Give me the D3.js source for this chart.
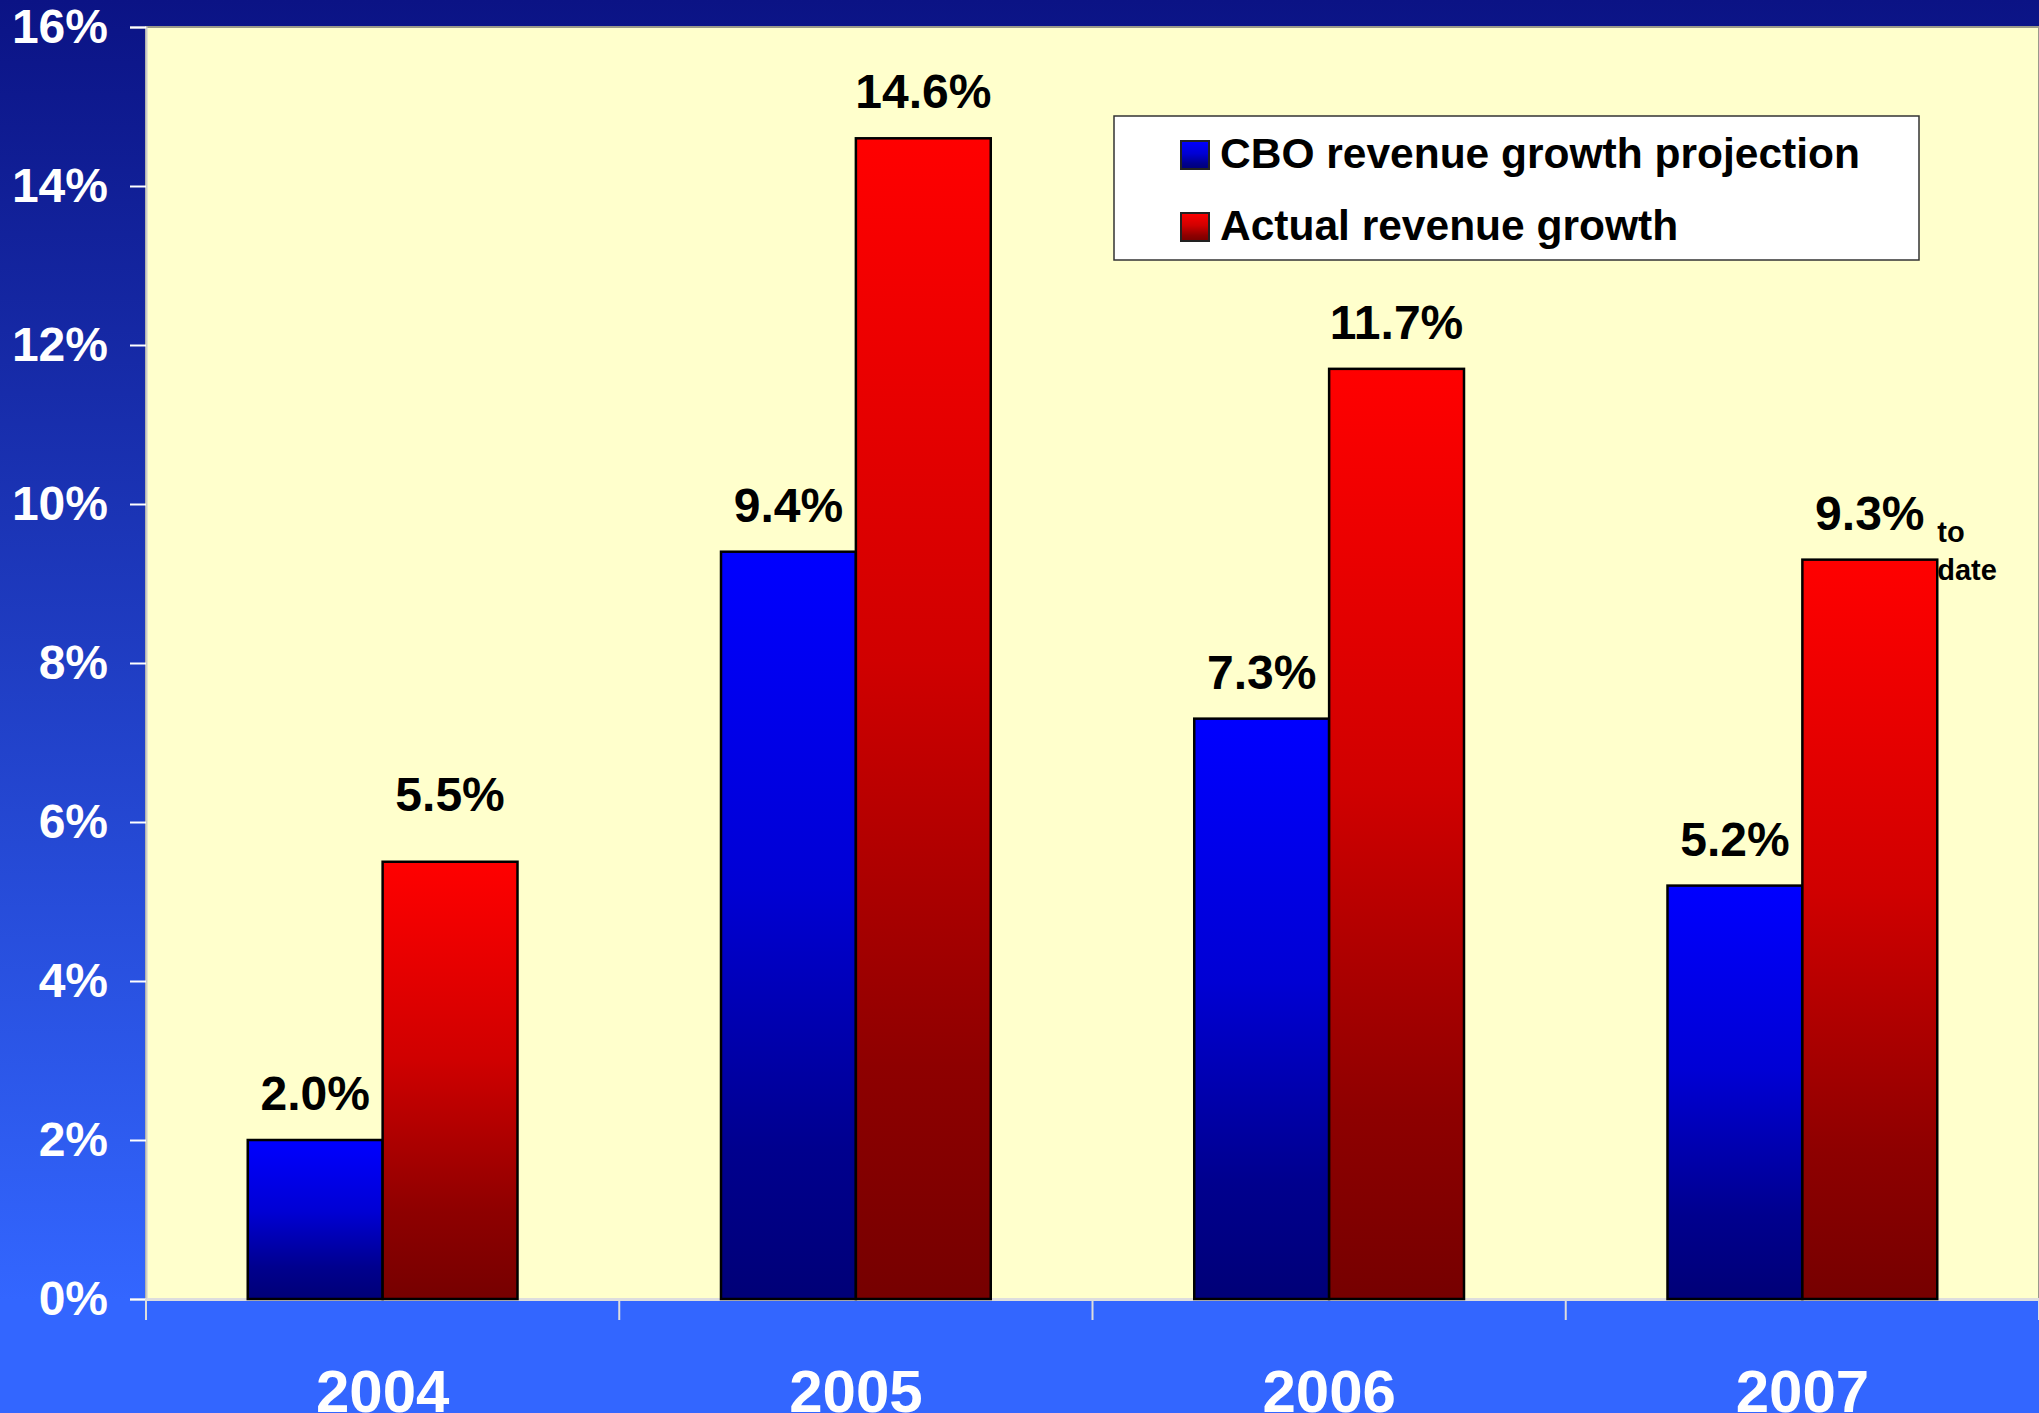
<!DOCTYPE html>
<html><head><meta charset="utf-8">
<script src="https://cdn.jsdelivr.net/npm/d3@7"></script>
<style>html,body{margin:0;padding:0;background:#3366FF;}svg{display:block;font-family:"Liberation Sans",Arial,sans-serif;}</style>
</head><body>
<script>
const years = ["2004","2005","2006","2007"];
const seriesNames = ["CBO revenue growth projection","Actual revenue growth"];
const cboValues = [2.0, 9.4, 7.3, 5.2];
const actualValues = [5.5, 14.6, 11.7, 9.3];
const yTickValues = [0,2,4,6,8,10,12,14,16];
const noteLines = ["to","date"];

const W = 2039, H = 1413;
const L = 146, T = 27, R = 2039, B = 1299;
// extra vertical lift of specific value labels (year index, series index)
const labelLift = {"0-1": 21};

const svg = d3.select("body").append("svg").attr("width", W).attr("height", H);
const defs = svg.append("defs");

const bg = defs.append("linearGradient").attr("id","bg").attr("gradientUnits","userSpaceOnUse")
  .attr("x1",0).attr("y1",0).attr("x2",0).attr("y2",1300);
bg.append("stop").attr("offset",0).attr("stop-color","#0B1385");
bg.append("stop").attr("offset",1).attr("stop-color","#3366FF");

function barGrad(id, stops){
  const g = defs.append("linearGradient").attr("id",id).attr("x1",0).attr("y1",0).attr("x2",0).attr("y2",1);
  stops.forEach(s => g.append("stop").attr("offset",s[0]).attr("stop-color",s[1]));
}
barGrad("gBlue", [[0,"#0000FF"],[0.45,"#0000D4"],[0.8,"#00008E"],[1,"#000077"]]);
barGrad("gRed", [[0,"#FF0000"],[0.45,"#D00000"],[0.8,"#8E0000"],[1,"#760000"]]);
const fills = ["url(#gBlue)","url(#gRed)"];

svg.append("rect").attr("width",W).attr("height",B).attr("fill","url(#bg)");
svg.append("rect").attr("y",B).attr("width",W).attr("height",H-B).attr("fill","#3366FF");

// plot area
svg.append("rect").attr("x",L).attr("y",T).attr("width",R-L).attr("height",B-T)
  .attr("fill","#FFFFCC").attr("stroke","#9a9a8a").attr("stroke-width",2);

const x = d3.scaleBand().domain(years).range([L,R]).paddingInner(0.43).paddingOuter(0.215);
const xs = d3.scaleBand().domain(seriesNames).range([0,x.bandwidth()]);
const y = d3.scaleLinear().domain([0,16]).range([B,T]);

// y axis
const ya = svg.append("g").attr("transform",`translate(${L},0)`)
  .call(d3.axisLeft(y).tickValues(yTickValues).tickFormat(d=>d+"%").tickSize(16).tickPadding(22));
ya.select(".domain").attr("stroke","#cccccc").attr("stroke-width",2);
ya.selectAll(".tick line").attr("stroke","#ffffff").attr("stroke-width",2);
ya.selectAll(".tick text").attr("fill","#ffffff").attr("font-size",48).attr("font-weight","bold")
  .attr("font-family","Liberation Sans, Arial, sans-serif");

// x axis
const xa = svg.append("g").attr("transform",`translate(0,${B})`)
  .call(d3.axisBottom(x).tickSize(0).tickPadding(0));
xa.select(".domain").attr("stroke","#dddddd").attr("stroke-width",3);
xa.selectAll(".tick text").attr("fill","#ffffff").attr("font-size",60).attr("font-weight","bold")
  .attr("font-family","Liberation Sans, Arial, sans-serif").attr("dy",0).attr("y",113);
const bounds = years.map(d => x(d) - x.step()*x.paddingOuter()).concat([R]);
xa.selectAll(".bnd").data(bounds).join("line").attr("class","bnd")
  .attr("x1",d=>d).attr("x2",d=>d).attr("y1",0).attr("y2",21)
  .attr("stroke","#dddddd").attr("stroke-width",2);

// bars
const rows = years.map((yr,i)=>({year:yr, i, vals:[cboValues[i], actualValues[i]]}));
const groups = svg.append("g").selectAll("g").data(rows).join("g")
  .attr("transform",d=>`translate(${x(d.year)},0)`);
groups.selectAll("rect").data(d=>d.vals.map((v,k)=>({v,k,i:d.i}))).join("rect")
  .attr("x",d=>xs(seriesNames[d.k])).attr("width",xs.bandwidth())
  .attr("y",d=>y(d.v)).attr("height",d=>B-y(d.v))
  .attr("fill",d=>fills[d.k]).attr("stroke","#000").attr("stroke-width",2.5);
groups.selectAll("text").data(d=>d.vals.map((v,k)=>({v,k,i:d.i}))).join("text")
  .attr("x",d=>xs(seriesNames[d.k])+xs.bandwidth()/2)
  .attr("y",d=>y(d.v)-30-(labelLift[d.i+"-"+d.k]||0))
  .attr("text-anchor","middle").attr("font-size",48).attr("font-weight","bold").attr("fill","#000")
  .text(d=>d.v.toFixed(1)+"%");

// note on last actual bar
const lastX = x(years[3]) + xs(seriesNames[1]) + xs.bandwidth();
const lastY = y(actualValues[3]);
svg.append("g").selectAll("text").data(noteLines).join("text")
  .attr("x",lastX).attr("y",(d,i)=>lastY - 18 + i*38)
  .attr("font-size",29).attr("font-weight","bold").attr("fill","#000").text(d=>d);

// legend
const lg = svg.append("g");
lg.append("rect").attr("x",1114).attr("y",116).attr("width",805).attr("height",144)
  .attr("fill","#ffffff").attr("stroke","#333").attr("stroke-width",1.5);
seriesNames.forEach((s,i)=>{
  lg.append("rect").attr("x",1181).attr("y",141+i*72).attr("width",28).attr("height",28)
    .attr("fill",fills[i]).attr("stroke","#222").attr("stroke-width",2);
  lg.append("text").attr("x",1220).attr("y",168+i*72).attr("font-size",42.5).attr("font-weight","bold")
    .attr("fill","#000").text(s);
});
</script>
</body></html>
